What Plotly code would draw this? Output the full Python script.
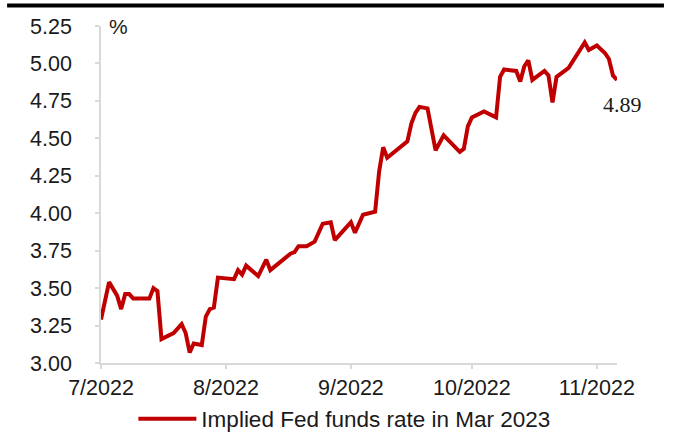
import plotly.graph_objects as go

# Implied Fed funds rate for Mar 2023, %
dates = [
    "2022-07-01", "2022-07-02", "2022-07-03", "2022-07-05", "2022-07-06", "2022-07-07",
    "2022-07-08", "2022-07-09", "2022-07-13", "2022-07-14", "2022-07-15", "2022-07-16",
    "2022-07-19", "2022-07-21", "2022-07-22", "2022-07-23", "2022-07-24", "2022-07-26",
    "2022-07-27", "2022-07-28", "2022-07-29", "2022-07-30", "2022-08-03", "2022-08-04",
    "2022-08-05", "2022-08-06", "2022-08-09", "2022-08-11", "2022-08-12", "2022-08-17",
    "2022-08-18", "2022-08-19", "2022-08-21", "2022-08-23", "2022-08-25", "2022-08-27",
    "2022-08-28", "2022-08-30", "2022-09-01", "2022-09-02", "2022-09-04", "2022-09-07",
    "2022-09-08", "2022-09-09", "2022-09-10", "2022-09-15", "2022-09-16", "2022-09-17",
    "2022-09-18", "2022-09-20", "2022-09-22", "2022-09-24", "2022-09-28", "2022-09-29",
    "2022-09-30", "2022-10-01", "2022-10-04", "2022-10-07", "2022-10-08", "2022-10-09",
    "2022-10-12", "2022-10-13", "2022-10-14", "2022-10-15", "2022-10-16", "2022-10-19",
    "2022-10-20", "2022-10-21", "2022-10-22", "2022-10-25", "2022-10-27", "2022-10-29",
    "2022-10-30", "2022-11-01", "2022-11-03", "2022-11-04", "2022-11-05", "2022-11-06",
]
rates = [
    3.29, 3.41, 3.54, 3.45, 3.36, 3.46,
    3.46, 3.43, 3.43, 3.50, 3.48, 3.16,
    3.20, 3.26, 3.20, 3.07, 3.13, 3.12,
    3.31, 3.36, 3.37, 3.57, 3.56, 3.62,
    3.59, 3.65, 3.58, 3.69, 3.62, 3.73,
    3.74, 3.78, 3.78, 3.81, 3.93, 3.94,
    3.82, 3.88, 3.94, 3.87, 3.99, 4.01,
    4.28, 4.44, 4.37, 4.48, 4.60, 4.67,
    4.71, 4.70, 4.42, 4.52, 4.41, 4.43,
    4.58, 4.64, 4.68, 4.64, 4.91, 4.96,
    4.95, 4.88, 4.98, 5.02, 4.89, 4.95,
    4.92, 4.74, 4.91, 4.97, 5.06, 5.14,
    5.09, 5.12, 5.07, 5.03, 4.92, 4.89,
]

tick_dates = ["2022-07-01", "2022-08-01", "2022-09-01", "2022-10-01", "2022-11-01"]
tick_labels = ["7/2022", "8/2022", "9/2022", "10/2022", "11/2022"]
series_name = "Implied Fed funds rate in Mar 2023"

RED = "#C00000"
AXIS_GREY = "#D9D9D9"
SANS = "Liberation Sans, Arial, sans-serif"
INK = "#1a1a1a"

fig = go.Figure()
fig.add_trace(go.Scatter(
    x=dates, y=rates, mode="lines", name=series_name,
    line=dict(color=RED, width=4),
))

fig.update_layout(
    width=677, height=443,
    margin=dict(l=101, r=60, t=26, b=80, autoexpand=False),
    paper_bgcolor="white", plot_bgcolor="white",
    font=dict(family=SANS, size=20, color=INK),
    showlegend=True,
    legend=dict(
        orientation="h", xref="container", yref="container",
        x=0.197, y=0.054, xanchor="left", yanchor="middle",
        font=dict(family=SANS, size=22.5, color=INK),
        itemwidth=58, bgcolor="rgba(0,0,0,0)",
    ),
)

fig.update_xaxes(
    type="date", range=[dates[0], dates[-1]],
    tickvals=tick_dates, ticktext=tick_labels,
    showgrid=False, zeroline=False,
    showline=True, linecolor=AXIS_GREY, linewidth=1.5,
    ticks="outside", ticklen=4, tickcolor=AXIS_GREY, tickwidth=1.5,
    tickfont=dict(family=SANS, size=21.5, color=INK),
    ticklabelstandoff=0,
)
fig.update_yaxes(
    range=[3.0, 5.25], dtick=0.25, tick0=3.0, tickformat=".2f",
    showgrid=False, zeroline=False,
    showline=True, linecolor=AXIS_GREY, linewidth=1.5,
    ticks="outside", ticklen=4, tickcolor=AXIS_GREY, tickwidth=1.5,
    tickfont=dict(family=SANS, size=21.5, color=INK),
    ticklabelstandoff=19,
)

# unit label beside the top of the value axis
fig.add_annotation(
    text="%", xref="paper", yref="paper", x=0.012, y=1.0,
    xanchor="left", yanchor="middle", showarrow=False,
    font=dict(family=SANS, size=21, color=INK),
)

# latest value label
fig.add_annotation(
    text=f"{rates[-1]:.2f}", x=dates[-1], y=rates[-1],
    xanchor="center", yanchor="top", xshift=5, yshift=-10, showarrow=False,
    font=dict(family="Liberation Serif, Cambria, serif", size=22, color=INK),
)

# heavy rule across the top of the chart
fig.add_shape(
    type="line", xref="paper", yref="paper",
    x0=-0.182, x1=1.091, y0=1.061, y1=1.061,
    line=dict(color="black", width=4),
)

fig.write_html("out.html")
